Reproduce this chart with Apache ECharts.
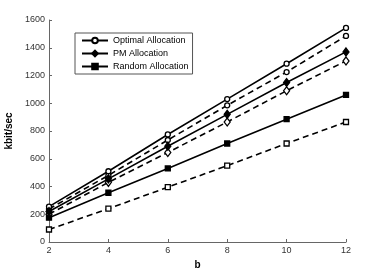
<!DOCTYPE html>
<html><head><meta charset="utf-8">
<script src="https://cdn.jsdelivr.net/npm/echarts@6/dist/echarts.min.js"></script>
<style>html,body{margin:0;padding:0;background:#fff}#c{width:382px;height:273px}</style>
</head><body><div id="c"></div>
<script>
const bValues = [2, 4, 6, 8, 10, 12];
const optimalSolid = [255, 510, 775, 1030, 1285, 1543];
const optimalDashed = [238, 480, 735, 985, 1225, 1485];
const pmSolid = [220, 455, 690, 920, 1150, 1370];
const pmDashed = [200, 430, 645, 865, 1090, 1305];
const randomSolid = [175, 355, 530, 710, 885, 1060];
const randomDashed = [90, 240, 395, 550, 710, 865];
const legendNames = ['Optimal Allocation', 'PM Allocation', 'Random Allocation'];

const pairs = arr => bValues.map((b, i) => [b, arr[i]]);
function mk(name, data, symbol, dashed, filled) {
  return {
    name, type: 'line', data: pairs(data), symbol, symbolSize: symbol === 'diamond' ? [6, 8] : 5,
    lineStyle: { color: '#000', width: 1.6, type: dashed ? [6, 4] : 'solid' },
    itemStyle: { color: filled ? '#000' : '#fff', borderColor: '#000', borderWidth: 1.3 },
    showAllSymbol: true, z: dashed ? 2 : 3, animation: false
  };
}
const chart = echarts.init(document.getElementById('c'), null, { renderer: 'canvas' });
chart.setOption({
  animation: false,
  grid: { left: 49, right: 36, top: 20, bottom: 31, containLabel: false, outerBoundsMode: 'none' },
  legend: {
    data: legendNames, orient: 'vertical', left: 75, top: 33,
    itemWidth: 26, itemHeight: 7, itemGap: 4,
    borderColor: '#555', borderWidth: 1, padding: [3, 4, 3, 6],
    textStyle: { fontFamily: 'Liberation Sans', fontSize: 9, color: '#000' },
    selectedMode: false
  },
  xAxis: {
    type: 'value', min: 2, max: 12, interval: 2, name: 'b', nameLocation: 'middle', nameGap: 17,
    nameTextStyle: { fontFamily: 'Liberation Sans', fontSize: 10, fontWeight: 'bold', color: '#000' },
    axisLine: { lineStyle: { color: '#666' } },
    axisTick: { inside: true, length: 3, lineStyle: { color: '#666' } },
    axisLabel: { fontFamily: 'Liberation Sans', fontSize: 9, color: '#333', margin: 4 },
    splitLine: { show: false }
  },
  yAxis: {
    type: 'value', min: 0, max: 1600, interval: 200, name: 'kbit/sec', nameLocation: 'middle', nameGap: 28,
    nameTextStyle: { fontFamily: 'Liberation Sans', fontSize: 10, fontWeight: 'bold', color: '#000' },
    axisLine: { show: true, lineStyle: { color: '#666' } },
    axisTick: { show: true, inside: true, length: 3, lineStyle: { color: '#666' } },
    axisLabel: { fontFamily: 'Liberation Sans', fontSize: 9, color: '#333', margin: 4, formatter: v => String(v) },
    splitLine: { show: false }
  },
  series: [
    mk('Optimal Allocation', optimalSolid, 'circle', false, false),
    mk('Optimal Allocation dashed', optimalDashed, 'circle', true, false),
    mk('PM Allocation', pmSolid, 'diamond', false, true),
    mk('PM Allocation dashed', pmDashed, 'diamond', true, false),
    mk('Random Allocation', randomSolid, 'rect', false, true),
    mk('Random Allocation dashed', randomDashed, 'rect', true, false)
  ]
});
</script></body></html>
